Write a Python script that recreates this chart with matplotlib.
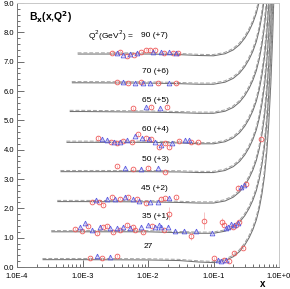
import matplotlib
matplotlib.use("Agg")
import matplotlib.pyplot as plt
import matplotlib.transforms as mtransforms
from matplotlib.ticker import FixedLocator, NullFormatter, MultipleLocator

plt.rcParams["font.family"] = ["Liberation Sans", "DejaVu Sans"]

# Q^2 values and their vertical offsets (as printed on the chart)
Q2_LABELS = ["90 (+7)", "70 (+6)", "65 (+5)", "60 (+4)", "50 (+3)", "45 (+2)", "35 (+1)", "27"]

# theory curves, x grid shared after a per-curve start point
CURVE_START = [8.6e-4, 7.0e-4, 6.5e-4, 5.8e-4, 4.7e-4, 4.2e-4, 3.4e-4, 2.5e-4]
CURVE_X = [1e-3, 1e-2, 0.03, 0.06, 0.1, 0.15, 0.2, 0.25, 0.3, 0.35, 0.4, 0.45,
           0.5, 0.55, 0.6, 0.65, 0.7, 0.75, 0.8, 0.85]
CURVE_Y = [
    [7.26, 7.26, 7.26, 7.24, 7.21, 7.20, 7.27, 7.40, 7.58, 7.80, 8.05, 8.33, 8.65, 9.05, 9.55, 10.15, 10.95, 12.0, 13.3, 14.9, 16.8],
    [6.28, 6.28, 6.27, 6.25, 6.23, 6.23, 6.30, 6.43, 6.61, 6.83, 7.08, 7.36, 7.68, 8.08, 8.58, 9.18, 9.98, 11.0, 12.3, 13.9, 15.8],
    [5.30, 5.30, 5.28, 5.26, 5.24, 5.24, 5.31, 5.44, 5.62, 5.84, 6.09, 6.37, 6.69, 7.09, 7.59, 8.19, 8.99, 10.0, 11.3, 12.9, 14.8],
    [4.25, 4.25, 4.25, 4.23, 4.20, 4.20, 4.27, 4.40, 4.58, 4.80, 5.05, 5.33, 5.65, 6.05, 6.55, 7.15, 7.95, 9.00, 10.3, 11.9, 13.8],
    [3.25, 3.25, 3.25, 3.24, 3.22, 3.22, 3.29, 3.42, 3.60, 3.82, 4.07, 4.35, 4.67, 5.07, 5.57, 6.17, 6.97, 8.02, 9.32, 10.9, 12.8],
    [2.23, 2.23, 2.22, 2.20, 2.18, 2.18, 2.25, 2.38, 2.56, 2.78, 3.03, 3.31, 3.63, 4.03, 4.53, 5.13, 5.93, 6.98, 8.28, 9.88, 11.8],
    [1.20, 1.20, 1.20, 1.17, 1.15, 1.15, 1.22, 1.35, 1.53, 1.75, 2.00, 2.28, 2.60, 3.00, 3.50, 4.10, 4.90, 5.95, 7.25, 8.85, 10.75],
    [0.25, 0.25, 0.24, 0.22, 0.17, 0.15, 0.22, 0.35, 0.53, 0.75, 1.00, 1.28, 1.60, 2.00, 2.50, 3.10, 3.90, 4.95, 6.25, 7.85, 9.75],
]

# data points: circles (red) and triangles (blue), one list per Q^2 row
CIRC_X = [
    [2.86e-3, 3.8e-3, 4.85e-3, 6.2e-3, 7.7e-3, 9.2e-3, 1.09e-2, 1.3e-2, 1.73e-2, 2.37e-2, 2.83e-2],
    [3.4e-3, 5.0e-3, 7.7e-3, 1.4e-2, 2.64e-2],
    [6.0e-3, 1.13e-2, 1.92e-2],
    [1.74e-3, 2.76e-3, 3.4e-3, 4.2e-3, 5.6e-3, 7.1e-3, 9.2e-3, 1.13e-2, 1.45e-2, 1.79e-2, 2.06e-2, 2.93e-2, 4.48e-2, 5.74e-2],
    [3.4e-3, 5.8e-3, 1.0e-2, 1.85e-2],
    [1.41e-3, 1.81e-3, 2.08e-3, 2.86e-3, 3.8e-3, 5.0e-3, 6.9e-3, 9.2e-3, 1.56e-2, 1.85e-2, 2.64e-2, 0.236, 0.312, 0.53],
    [7.7e-4, 9.9e-4, 1.22e-3, 1.68e-3, 2.08e-3, 2.39e-3, 2.96e-3, 3.8e-3, 4.85e-3, 6.0e-3, 6.4e-3, 8.5e-3,
     1.17e-2, 1.73e-2, 2.06e-2, 4.48e-2, 7.1e-2, 0.134, 0.144, 0.197, 0.219, 0.244],
    [1.32e-3, 2.0e-3, 3.4e-3, 0.1, 0.144, 0.171, 0.204, 0.281],
]
CIRC_Y = [
    [7.31, 7.34, 7.19, 7.23, 7.33, 7.40, 7.40, 7.40, 7.30, 7.30, 7.30],
    [6.32, 6.28, 6.32, 6.27, 6.26],
    [5.41, 5.47, 5.47],
    [4.39, 4.25, 4.22, 4.30, 4.27, 4.52, 4.39, 4.36, 4.10, 4.22, 4.10, 4.30, 4.27, 4.25],
    [3.44, 3.34, 3.38, 3.25],
    [2.23, 2.21, 2.13, 2.40, 2.33, 2.40, 2.32, 2.17, 2.31, 2.34, 2.37, 2.68, 2.83, 4.38],
    [1.29, 1.24, 1.40, 1.17, 1.37, 1.40, 1.20, 1.26, 1.43, 1.35, 1.26, 1.20,
     1.40, 1.26, 1.81, 1.06, 1.58, 1.54, 1.43, 1.37, 1.43, 1.54],
    [0.30, 0.30, 0.39, 0.30, 0.24, 0.20, 0.48, 0.66],
]
CIRC_ERR = [
    [0.05] * 11,
    [0.05] * 5,
    [0.05] * 3,
    [0.06] * 14,
    [0.05] * 4,
    [0.06] * 11 + [0.10, 0.08, 0.10],
    [0.06, 0.06, 0.07, 0.07, 0.07, 0.07, 0.08, 0.07, 0.07, 0.07, 0.07, 0.08,
     0.08, 0.08, 0.22, 0.14, 0.28, 0.12, 0.08, 0.06, 0.06, 0.06],
    [0.05, 0.05, 0.05, 0.05, 0.05, 0.05, 0.05, 0.05],
]
TRI_X = [
    [3.4e-3, 4.2e-3, 5.4e-3, 6.9e-3, 1.21e-2, 1.56e-2, 2.06e-2, 2.64e-2],
    [4.2e-3, 6.4e-3, 8.5e-3, 1.09e-2, 2.06e-2],
    [9.2e-3, 1.5e-2],
    [2.0e-3, 2.39e-3, 3.07e-3, 3.8e-3, 4.85e-3, 6.4e-3, 8.2e-3, 1.02e-2, 1.26e-2, 1.58e-2, 2.29e-2, 3.62e-2, 4.18e-2],
    [4.5e-3, 7.9e-3, 1.4e-2],
    [1.63e-3, 2.39e-3, 3.18e-3, 4.5e-3, 5.8e-3, 7.4e-3, 1.09e-2, 1.4e-2, 2.06e-2, 0.262, 0.291],
    [9.2e-4, 1.1e-3, 1.41e-3, 1.87e-3, 2.66e-3, 3.4e-3, 4.2e-3, 5.4e-3, 7.7e-3, 1.0e-2, 1.3e-2, 1.45e-2,
     1.58e-2, 1.99e-2, 2.55e-2, 3.5e-2, 5.35e-2, 9.4e-2, 0.154, 0.165, 0.184, 0.204, 0.236],
    [1.68e-3, 2.66e-3, 0.116, 0.129, 0.154],
]
TRI_Y = [
    [7.29, 7.23, 7.26, 7.29, 7.33, 7.33, 7.33, 7.30],
    [6.31, 6.26, 6.28, 6.26, 6.27],
    [5.44, 5.41],
    [4.36, 4.33, 4.27, 4.27, 4.33, 4.48, 4.41, 4.36, 4.27, 4.16, 4.22, 4.33, 4.33],
    [3.38, 3.35, 3.38],
    [2.29, 2.32, 2.31, 2.40, 2.31, 2.25, 2.23, 2.23, 2.34, 2.74, 2.80],
    [1.35, 1.49, 1.26, 1.37, 1.32, 1.32, 1.37, 1.32, 1.37, 1.43, 1.37, 1.43,
     1.37, 1.37, 1.24, 1.24, 1.24, 1.15, 1.32, 1.36, 1.46, 1.43, 1.49],
    [0.39, 0.35, 0.24, 0.20, 0.24],
]

X_TICKS = [1e-4, 1e-3, 1e-2, 1e-1, 1e0]
X_TICK_LABELS = ["1.0E-4", "1.0E-3", "1.0E-2", "1.0E-1", "1.0E+0"]
Y_TICKS = [0, 1, 2, 3, 4, 5, 6, 7, 8, 9]

# positions of the row labels, given in data units
LABEL_POS = [(7.7e-3, 7.88), (8.2e-3, 6.68), (8.0e-3, 5.69), (8.0e-3, 4.70),
             (8.0e-3, 3.68), (7.7e-3, 2.69), (8.2e-3, 1.72), (8.7e-3, 0.70)]

CIRC_COLOR = "#ee5a5a"
TRI_COLOR = "#5a5ae0"
CIRC_ERR_COLOR = "#f7c4c4"
TRI_ERR_COLOR = "#c4c4f4"


def main() -> None:
    fig = plt.figure(figsize=(2.90, 2.89), dpi=100)
    ax = fig.add_axes([17 / 290, 1 - 267 / 289, 262 / 290, 264 / 289])
    dashed_tr = mtransforms.offset_copy(ax.transData, fig=fig, x=-0.6, y=1.2, units="dots")

    for start, ys in zip(CURVE_START, CURVE_Y):
        xs = [start] + CURVE_X
        ax.plot(xs, ys, color="#707070", lw=0.75, zorder=2)
        ax.plot(xs, ys, color="#a0a0a0", lw=0.7, dashes=(4, 2), transform=dashed_tr, zorder=2)

    for cx, cy, ce in zip(CIRC_X, CIRC_Y, CIRC_ERR):
        ax.errorbar(cx, cy, yerr=ce, fmt="none", ecolor=CIRC_ERR_COLOR, elinewidth=0.7, zorder=3)
        ax.plot(cx, cy, "o", ms=3.4, mfc="none", mec=CIRC_COLOR, mew=0.6, zorder=4)
    for tx, ty in zip(TRI_X, TRI_Y):
        ax.errorbar(tx, ty, yerr=0.05, fmt="none", ecolor=TRI_ERR_COLOR, elinewidth=0.7, zorder=3)
        ax.plot(tx, ty, "^", ms=3.4, mfc="none", mec=TRI_COLOR, mew=0.6, zorder=4)

    ax.set_xscale("log")
    ax.set_xlim(1e-4, 1.0)
    ax.set_ylim(0, 9)

    ax.set_xticks(X_TICKS)
    ax.set_xticklabels(X_TICK_LABELS)
    minors = [m * d for d in X_TICKS[:-1] for m in range(2, 10)]
    ax.xaxis.set_minor_locator(FixedLocator(minors))
    ax.xaxis.set_minor_formatter(NullFormatter())
    ax.set_yticks(Y_TICKS)
    ax.set_yticklabels([f"{v:.1f}" for v in Y_TICKS])
    ax.yaxis.set_minor_locator(MultipleLocator(0.2))

    ax.tick_params(axis="both", which="both", direction="in", colors="#555555",
                   labelcolor="black", labelsize=5.5, width=0.6)
    ax.tick_params(axis="both", which="major", length=5)
    ax.tick_params(axis="both", which="minor", length=2.5)
    ax.tick_params(axis="x", pad=4)
    ax.tick_params(axis="y", pad=2)
    for side in ("top", "right"):
        ax.spines[side].set_color("#c8c8c8")
        ax.spines[side].set_linewidth(0.7)
    for side in ("left", "bottom"):
        ax.spines[side].set_color("#777777")
        ax.spines[side].set_linewidth(0.7)

    ax.text(0.045, 0.947, r"B$_{\mathbf{x}}$(x,Q$^{\mathbf{2}}$)", transform=ax.transAxes,
            fontsize=7.5, fontweight="bold", ha="left", va="center")
    ax.text(0.271, 0.875, r"Q$^2$(GeV$^2$) =", transform=ax.transAxes,
            fontsize=6, ha="left", va="center")
    for (lx, ly), lab in zip(LABEL_POS, Q2_LABELS):
        ax.text(lx, ly, lab, fontsize=6, ha="left", va="center")
    ax.text(0.939, -0.064, "x", transform=ax.transAxes, fontsize=7,
            fontweight="bold", ha="center", va="center")

    fig.savefig("out.png", dpi=100)
    plt.close(fig)


if __name__ == "__main__":
    main()
